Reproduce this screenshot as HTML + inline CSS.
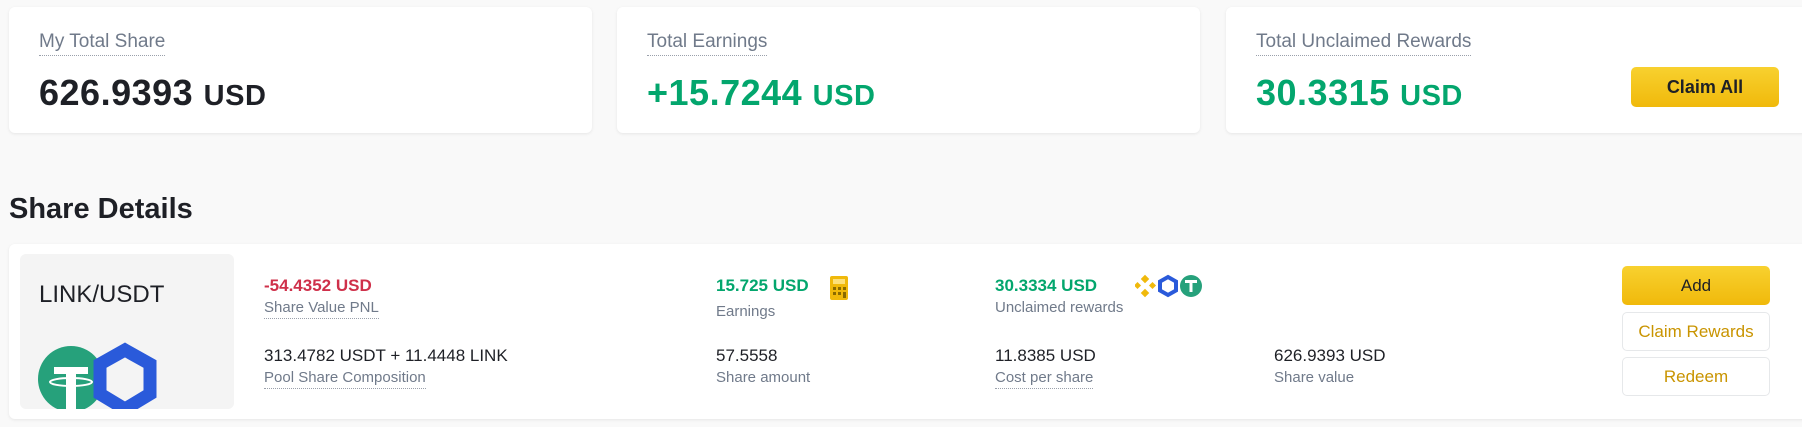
<!DOCTYPE html>
<html><head><meta charset="utf-8">
<style>
*{box-sizing:border-box;margin:0;padding:0}
body{width:1802px;height:427px;background:#f9f9f9;font-family:"Liberation Sans",sans-serif;position:relative;overflow:hidden;color:#1e2026}
.abs{position:absolute;white-space:nowrap}
.card{position:absolute;background:#fff;border-radius:6px;box-shadow:0 1px 3px rgba(0,0,0,0.08)}
.lbl{font-size:19px;color:#707a8a;border-bottom:1px dotted #9aa0ab;line-height:26px}
.big{font-size:36px;font-weight:bold;letter-spacing:0.5px}
.big span{font-size:29px}
.green{color:#03a66d}
.val{font-size:17px;line-height:22px}
.sl{font-size:15px;color:#707a8a;line-height:20px}
.dash{border-bottom:1px dotted #9aa0ab}
.btn{position:absolute;border-radius:5px;text-align:center;font-size:17px}
.y{background:linear-gradient(#f8d12f,#f0b90b);color:#1e2026}
.o{background:#fff;border:1px solid #e6e8ea;color:#c99400}
</style></head><body>
<div class="card" style="left:9px;top:7px;width:583px;height:126px">
 <div class="abs lbl" style="left:30px;top:22px">My Total Share</div>
 <div class="abs big" style="left:30px;top:65px">626.9393 <span>USD</span></div>
</div>
<div class="card" style="left:617px;top:7px;width:583px;height:126px">
 <div class="abs lbl" style="left:30px;top:22px">Total Earnings</div>
 <div class="abs big green" style="left:30px;top:65px">+15.7244 <span>USD</span></div>
</div>
<div class="card" style="left:1226px;top:7px;width:600px;height:126px">
 <div class="abs lbl" style="left:30px;top:22px">Total Unclaimed Rewards</div>
 <div class="abs big green" style="left:30px;top:65px">30.3315 <span>USD</span></div>
 <div class="btn y" style="left:405px;top:60px;width:148px;height:40px;line-height:40px;font-weight:bold;font-size:18px">Claim All</div>
</div>
<div class="abs" style="left:9px;top:193px;font-size:29px;font-weight:bold">Share Details</div>
<div class="card" style="left:9px;top:244px;width:1810px;height:175px">
 <div class="abs" style="left:11px;top:10px;width:214px;height:155px;background:#f4f4f4;border-radius:6px;overflow:hidden">
  <div class="abs" style="left:19px;top:27px;font-size:24px;color:#1e2026">LINK/USDT</div>
  <svg class="abs" style="left:0;top:0" width="214" height="155">
   <circle cx="51" cy="125" r="33" fill="#26a17b"/>
   <rect x="34" y="113" width="34" height="7" fill="#fff"/><rect x="46" y="113" width="10" height="42" fill="#fff"/>
   <ellipse cx="51" cy="128" rx="21" ry="4" fill="none" stroke="#fff" stroke-width="2"/>
   <polygon points="105,96 130,110 130,140 105,155 80,140 80,110" fill="none" stroke="#2a5ada" stroke-width="13"/>
  </svg>
 </div>
 <div class="abs val" style="left:255px;top:31px;color:#cf304a;font-weight:bold">-54.4352 USD</div>
 <div class="abs sl dash" style="left:255px;top:54px">Share Value PNL</div>
 <div class="abs val" style="left:255px;top:101px">313.4782 USDT + 11.4448 LINK</div>
 <div class="abs sl dash" style="left:255px;top:124px">Pool Share Composition</div>
 <div class="abs val green" style="left:707px;top:31px;font-weight:bold">15.725 USD</div>
 <svg class="abs" style="left:821px;top:32px" width="18" height="24"><rect width="18" height="24" rx="2" fill="#f0b90b"/><rect x="3" y="3" width="12" height="5" fill="#fde07a"/><g fill="#8a6a00"><rect x="3" y="11" width="3" height="3"/><rect x="8" y="11" width="3" height="3"/><rect x="13" y="11" width="3" height="3"/><rect x="3" y="16" width="3" height="3"/><rect x="8" y="16" width="3" height="3"/><rect x="13" y="16" width="3" height="6"/></g></svg>
 <div class="abs sl" style="left:707px;top:58px">Earnings</div>
 <div class="abs val" style="left:707px;top:101px">57.5558</div>
 <div class="abs sl" style="left:707px;top:124px">Share amount</div>
 <div class="abs val green" style="left:986px;top:31px;font-weight:bold">30.3334 USD</div>
 <svg class="abs" style="left:1126px;top:30px" width="70" height="24">
  <g fill="#f0b90b"><rect x="7" y="2" width="6" height="6" transform="rotate(45 10 5)"/><rect x="7" y="16" width="6" height="6" transform="rotate(45 10 19)"/><rect x="0" y="9" width="5" height="5" transform="rotate(45 2.5 11.5)"/><rect x="15" y="9" width="5" height="5" transform="rotate(45 17.5 11.5)"/></g>
  <polygon points="33,3 41,7.5 41,16.5 33,21 25,16.5 25,7.5" fill="none" stroke="#2a5ada" stroke-width="4"/>
  <circle cx="56" cy="12" r="11" fill="#26a17b"/><rect x="50" y="6" width="12" height="3" fill="#fff"/><rect x="54.5" y="6" width="3" height="12" fill="#fff"/>
 </svg>
 <div class="abs sl" style="left:986px;top:54px">Unclaimed rewards</div>
 <div class="abs val" style="left:986px;top:101px">11.8385 USD</div>
 <div class="abs sl dash" style="left:986px;top:124px">Cost per share</div>
 <div class="abs val" style="left:1265px;top:101px">626.9393 USD</div>
 <div class="abs sl" style="left:1265px;top:124px">Share value</div>
 <div class="btn y" style="left:1613px;top:22px;width:148px;height:39px;line-height:39px">Add</div>
 <div class="btn o" style="left:1613px;top:68px;width:148px;height:39px;line-height:37px">Claim Rewards</div>
 <div class="btn o" style="left:1613px;top:113px;width:148px;height:39px;line-height:37px">Redeem</div>
</div>
</body></html>
